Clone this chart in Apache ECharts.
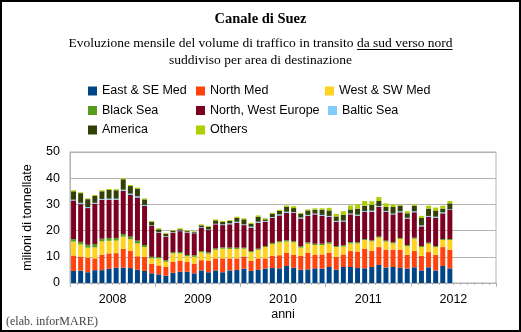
<!DOCTYPE html>
<html>
<head>
<meta charset="utf-8">
<script src="https://cdn.jsdelivr.net/npm/echarts@6/dist/echarts.min.js"></script>
<style>
html,body{margin:0;padding:0;background:#fff;}
#c{width:521px;height:332px;}
</style>
</head>
<body>
<div id="c"></div>
<script>
const years = ['2008', '2009', '2010', '2011', '2012'];
const monthNames = ['01','02','03','04','05','06','07','08','09','10','11','12'];
const yTicks = [0, 10, 20, 30, 40, 50];

const seriesNames = ['East & SE Med', 'North Med', 'West & SW Med', 'Black Sea',
  'North, West Europe', 'Baltic Sea', 'America', 'Others'];
const seriesColors = ['#004586', '#ff420e', '#ffd320', '#579d1c',
  '#7e0021', '#83caff', '#314004', '#aecf00'];

const eastSEMed = [4.6,4.7,4.1,4.9,4.9,5.5,5.8,5.9,5.7,5.1,4.6,3.7,
  3.3,2.8,3.9,4.3,4.3,3.7,4.8,4.1,4.8,4.1,4.8,5.0,
  5.5,4.6,5.0,5.5,5.7,5.6,6.5,5.9,5.1,5.2,5.6,5.5,
  6.1,5.1,6.1,6.1,5.7,5.6,6.1,6.9,5.9,6.1,5.7,5.5,
  6.0,4.8,6.0,4.8,6.5,5.6];
const northMed = [5.9,5.4,5.6,4.5,5.9,5.8,5.6,7.1,6.5,5.1,5.3,3.7,
  3.4,3.3,4.2,4.1,3.7,3.7,3.9,4.3,4.6,5.3,4.6,4.4,
  4.6,3.8,4.4,3.9,4.6,5.0,5.1,4.8,5.2,6.3,5.1,5.4,
  5.5,4.8,4.8,6.1,6.3,7.5,6.1,6.8,6.8,6.6,7.0,5.3,
  6.2,5.6,5.8,5.9,7.2,7.1];
const westSWMed = [5.3,4.6,3.8,4.2,5.1,4.8,4.8,4.7,4.5,4.9,3.8,2.0,
  2.7,2.0,3.2,2.9,2.2,2.6,3.0,2.8,3.3,3.7,3.6,3.6,
  3.0,3.4,3.3,4.3,4.5,4.9,4.2,4.8,3.2,3.5,3.8,3.6,
  3.4,3.8,3.0,2.9,3.1,3.3,3.7,3.6,3.1,2.4,4.1,3.2,
  4.7,3.3,3.2,3.0,2.7,3.7];
const blackSea = [1.0,1.0,1.1,1.3,1.0,1.1,1.0,1.0,1.0,1.1,0.8,0.6,
  0.5,0.6,0.5,0.5,0.5,0.6,0.5,0.5,0.5,0.5,0.5,0.5,
  0.4,0.4,0.4,0.4,0.5,0.5,0.5,0.5,0.6,0.5,0.5,0.5,
  0.5,0.4,0.5,0.5,0.5,0.4,0.4,0.4,0.4,0.5,0.4,0.5,
  0.4,0.4,0.4,0.4,0.4,0.4];
const northWestEurope = [14.7,14.4,14.0,15.4,14.9,14.6,14.6,16.5,15.9,16.4,14.9,11.8,
  9.3,9.0,7.4,8.0,8.5,8.4,8.9,8.5,9.2,8.5,8.9,9.5,
  8.6,8.9,9.9,9.3,9.6,9.8,10.5,10.8,10.5,10.2,11.2,10.6,
  9.8,9.3,9.1,10.6,10.1,10.3,10.9,11.4,11.0,10.6,9.8,10.1,
  9.7,7.5,9.9,10.8,9.8,11.1];
const balticSea = [0.3,0.5,0.4,0.3,0.3,0.4,0.4,0.4,0.5,0.5,0.4,0.2,
  0.2,0.2,0.2,0.2,0.2,0.2,0.2,0.2,0.2,0.3,0.4,0.4,
  0.3,0.4,0.4,0.3,0.3,0.4,0.4,0.3,0.4,0.3,0.3,0.4,
  0.3,0.3,0.3,0.3,0.4,0.4,0.4,0.3,0.3,0.3,0.4,0.3,
  0.4,0.4,0.3,0.4,0.4,0.2];
const america = [3.2,3.7,3.0,2.6,2.9,3.3,3.2,4.0,2.9,2.9,2.1,1.4,
  1.1,0.9,0.5,0.5,0.4,0.3,0.7,1.0,1.3,0.9,0.9,1.4,
  1.9,1.1,1.9,0.6,1.3,1.3,1.8,1.5,1.5,1.7,1.5,2.0,
  2.1,1.7,2.2,1.6,2.3,2.0,2.2,1.9,1.6,2.5,2.1,1.7,
  2.0,2.8,2.8,2.4,1.4,2.3];
const others = [0.4,0.3,0.3,0.4,0.4,0.4,0.4,0.4,0.4,0.4,0.4,0.3,
  0.4,0.3,0.3,0.4,0.3,0.2,0.4,0.4,0.4,0.4,0.3,0.5,
  0.4,0.4,0.5,0.4,0.3,0.4,0.6,0.7,0.3,0.4,0.5,0.5,
  1.0,1.0,1.4,1.5,1.6,1.8,1.4,1.5,1.3,1.0,0.3,0.8,
  0.5,0.8,1.1,1.1,1.1,0.9];

const seriesValues = [eastSEMed, northMed, westSWMed, blackSea,
  northWestEurope, balticSea, america, others];

const months = [];
years.forEach(y => monthNames.forEach(m => months.push(y + '-' + m)));

const SANS = '"Liberation Sans", Arial, sans-serif';
const SERIF = '"Liberation Serif", "Times New Roman", serif';
const GREY = '#b3b3b3';

const chart = echarts.init(document.getElementById('c'), null, {renderer: 'canvas'});

const line1a = 'Evoluzione mensile del volume di traffico in transito ';
const line1b = 'da sud verso nord';
const line2 = 'suddiviso per area di destinazione';
const SUBSIZE = 13.5;

// measure for underline
const mc = document.createElement('canvas').getContext('2d');
mc.font = SUBSIZE + 'px ' + SERIF;
const wFull = mc.measureText(line1a + line1b).width;
const wU = mc.measureText(line1b).width;
const cx = 260.5;
const ulEnd = cx + wFull / 2;
const ulStart = ulEnd - wU;

const legendText = {fontSize: 12.5, fontFamily: SANS, color: '#000', lineHeight: 14};
function mkLegend(left, names) {
  return {
    left: left, top: 84, orient: 'vertical', padding: 0,
    itemWidth: 9, itemHeight: 9, itemGap: 5.5, icon: 'rect',
    data: names, textStyle: legendText, selectedMode: false
  };
}

const option = {
  animation: false,
  backgroundColor: '#fff',
  title: [
    {text: 'Canale di Suez', left: 'center', top: 11, padding: 0,
      textStyle: {fontFamily: SERIF, fontSize: 14.5, fontWeight: 'bold', color: '#000', lineHeight: 16}},
    {text: line1a + line1b + '\n' + line2, left: 'center', top: 34.5, padding: 0,
      textStyle: {fontFamily: SERIF, fontSize: SUBSIZE, fontWeight: 'normal', color: '#000', lineHeight: 17}}
  ],
  legend: [
    mkLegend(88, ['East & SE Med', 'Black Sea', 'America']),
    mkLegend(196, ['North Med', 'North, West Europe', 'Others']),
    mkLegend(325, ['West & SW Med']),
    Object.assign(mkLegend(328, ['Baltic Sea']), {top: 103.5})
  ],
  grid: {left: 70, right: 25, top: 152, bottom: 49, show: true,
    borderColor: GREY, borderWidth: 1, backgroundColor: 'transparent'},
  xAxis: [
    {
      type: 'category', data: months, position: 'bottom', boundaryGap: true,
      axisLine: {show: true, lineStyle: {color: GREY}},
      axisTick: {show: true, interval: 0, length: 2, lineStyle: {color: GREY}},
      axisLabel: {show: false},
      name: 'anni', nameLocation: 'middle', nameGap: 25,
      nameTextStyle: {fontFamily: SANS, fontSize: 12.5, color: '#000'}
    },
    {
      type: 'category', data: years, position: 'bottom', boundaryGap: true, offset: 0,
      axisLine: {show: false},
      axisTick: {show: true, interval: 0, length: 4, lineStyle: {color: GREY}},
      axisLabel: {show: true, interval: 0, margin: 10, fontFamily: SANS, fontSize: 12.5, color: '#000'}
    }
  ],
  yAxis: {
    type: 'value', min: yTicks[0], max: yTicks[yTicks.length - 1], interval: 10,
    axisLine: {show: true, lineStyle: {color: GREY}},
    axisTick: {show: false},
    splitLine: {show: true, lineStyle: {color: GREY}},
    axisLabel: {margin: 10, fontFamily: SANS, fontSize: 12.5, color: '#000'},
    name: 'milioni di tonnellate', nameLocation: 'middle', nameGap: 36, nameRotate: 90,
    nameTextStyle: {fontFamily: SANS, fontSize: 12.5, color: '#000'}
  },
  series: seriesNames.map((n, i) => ({
    name: n, type: 'bar', stack: 'total', xAxisIndex: 0,
    barWidth: '70%', data: seriesValues[i],
    itemStyle: {color: seriesColors[i]}
  })),
  graphic: [
    {type: 'rect', shape: {x: 1, y: 1, width: 519, height: 330},
      style: {fill: 'none', stroke: '#000', lineWidth: 2}, silent: true},
    {type: 'line', shape: {x1: ulStart, y1: 49.5, x2: ulEnd, y2: 49.5},
      style: {stroke: '#000', lineWidth: 1}, silent: true},
    {type: 'text', x: 6, y: 322,
      style: {text: '(elab. inforMARE)', font: '12px ' + SERIF, fill: '#444', verticalAlign: 'middle'}, silent: true}
  ]
};
chart.setOption(option);
</script>
</body>
</html>
